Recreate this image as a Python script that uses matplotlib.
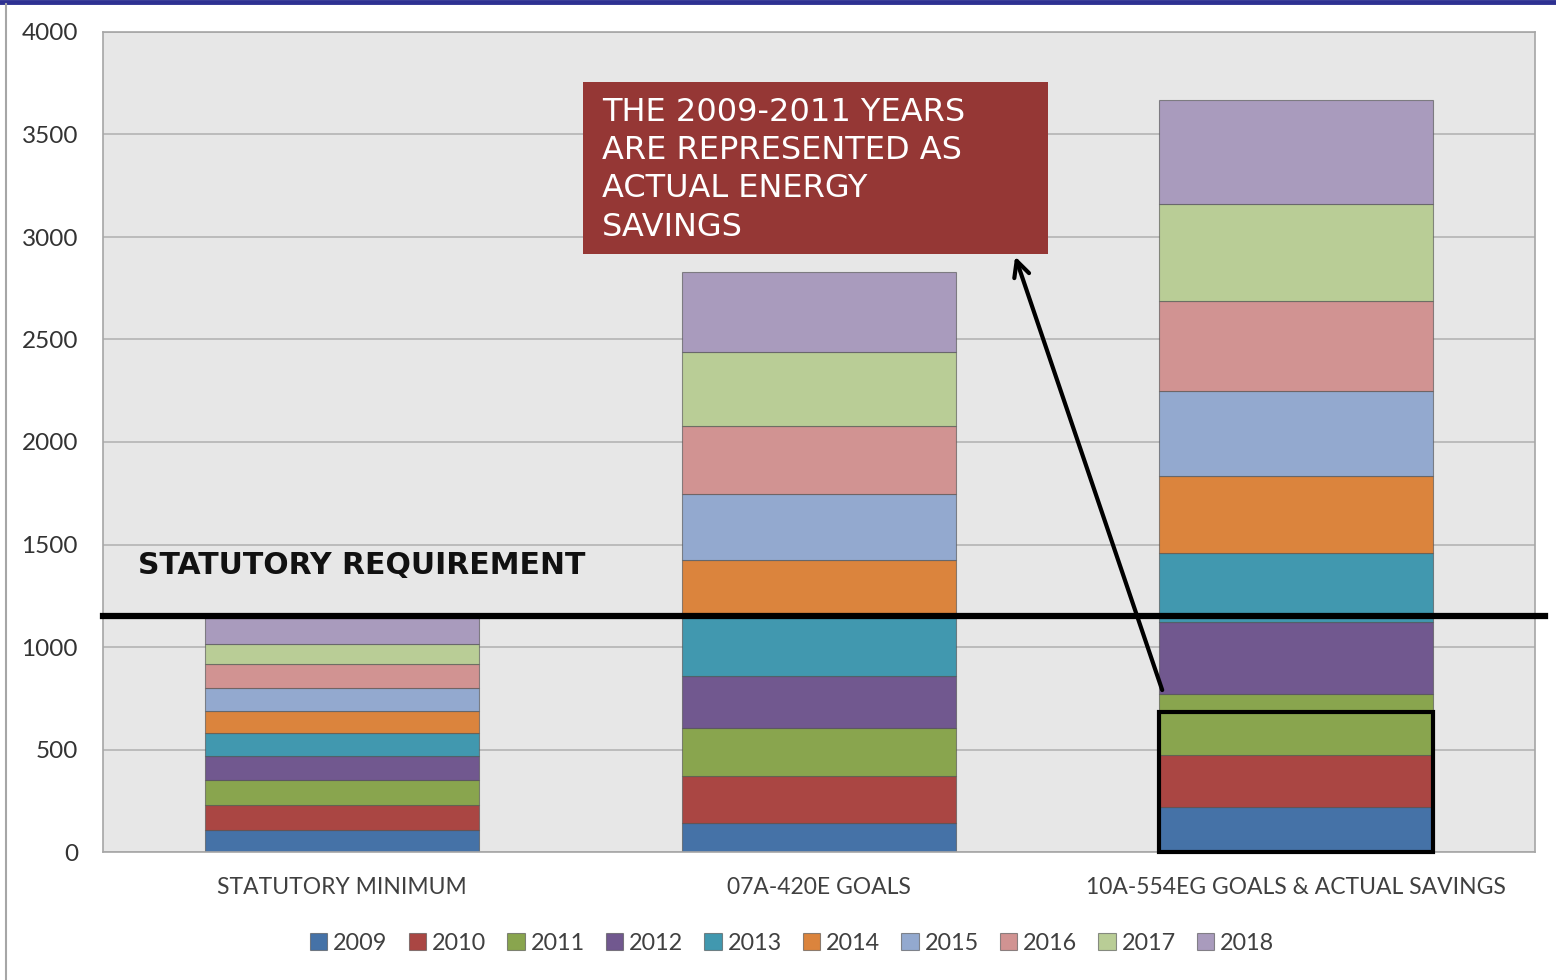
import numpy as np
import matplotlib
matplotlib.use("Agg")
import matplotlib.pyplot as plt
from matplotlib.lines import Line2D
from matplotlib.patches import Rectangle

# categories and years
categories = ["STATUTORY MINIMUM", "07A-420E GOALS", "10A-554EG GOALS & ACTUAL SAVINGS"]
years = ["2009", "2010", "2011", "2012", "2013", "2014", "2015", "2016", "2017", "2018"]

# savings per year, one list per category
statutory_min = [107, 122, 122, 117, 114, 106, 113, 115, 97, 127]
goals_07a = [143, 228, 232, 256, 287, 278, 321, 335, 358, 393]
goals_10a = [221, 252, 298, 351, 335, 377, 415, 440, 471, 508]

requirement = 1150      # statutory requirement line
actual_box_top = 685    # box round 2009-2011 actual savings

colors = ["#4572A7", "#AA4643", "#89A54E", "#71588F", "#4198AF",
          "#DB843D", "#93A9CF", "#D19392", "#B9CD96", "#A99BBD"]

data = np.array([statutory_min, goals_07a, goals_10a])  # shape (3, 10)

fig = plt.figure(figsize=(15.56, 9.8), dpi=100)
ax = fig.add_axes([103 / 1556, 1 - 852 / 980, 1432 / 1556, 820 / 980])
ax.set_facecolor("#E7E7E7")

x = np.arange(len(categories))
width = 0.574
bottom = np.zeros(len(categories))
for i, yr in enumerate(years):
    ax.bar(x, data[:, i], width, bottom=bottom, color=colors[i], label=yr,
           edgecolor=(0.3, 0.3, 0.3, 0.6), linewidth=0.8, zorder=2)
    bottom += data[:, i]

ax.set_xlim(-0.5, 2.5)
ax.set_ylim(0, 4000)
ax.set_yticks(np.arange(0, 4001, 500))
ax.yaxis.grid(True, color="#B4B4B4", linewidth=1.2, zorder=0)
ax.set_axisbelow(True)
ax.tick_params(axis="both", length=0)
ax.tick_params(axis="y", pad=18, labelsize=17.5, labelcolor="#333333")
ax.tick_params(axis="x", pad=18, labelsize=16.5, labelcolor="#404040")
for lab in ax.get_yticklabels() + ax.get_xticklabels():
    lab.set_family("Lato")
ax.set_xticks(x)
ax.set_xticklabels(categories)
for s in ax.spines.values():
    s.set_color("#A6A6A6")
    s.set_linewidth(1.2)

# statutory requirement line and label
ax.axhline(requirement, xmin=0, xmax=1.007, color="black", linewidth=4.5,
           clip_on=False, zorder=5)
ax.text(-0.427, 1400, "STATUTORY REQUIREMENT", fontsize=21.5, fontweight="bold",
        va="center", ha="left", color="#111111", zorder=6)

# box round the actual savings part of the last bar
ax.add_patch(Rectangle((x[2] - width / 2, 0), width, actual_box_top, fill=False,
                       edgecolor="black", linewidth=3, zorder=6, clip_on=False))

# note box
ax.add_patch(Rectangle((0.506, 2917), 0.974, 839, facecolor="#953735",
                       edgecolor="none", zorder=6))
ax.text(0.546, 3685, "THE 2009-2011 YEARS\nARE REPRESENTED AS\nACTUAL ENERGY\nSAVINGS",
        fontsize=23, color="white", va="top", ha="left", linespacing=1.31, zorder=7)
ax.annotate("", xy=(1.411, 2905), xytext=(1.719, 790),
            arrowprops=dict(arrowstyle="->", color="black", lw=3,
                            mutation_scale=28, shrinkA=0, shrinkB=0), zorder=8)

leg = fig.legend(loc="center", bbox_to_anchor=(792 / 1556, 1 - 943 / 980), ncol=10,
                 frameon=False, handlelength=0.75, handleheight=0.75,
                 handletextpad=0.25, columnspacing=0.9,
                 prop={"family": "Lato", "size": 16.8})
for t in leg.get_texts():
    t.set_color("#404040")

# slide frame
fig.add_artist(Line2D([0, 1], [0.998, 0.998], color="#2E3192", linewidth=3.5))
fig.add_artist(Line2D([6 / 1556, 6 / 1556], [0, 0.996], color="#A6A6A6", linewidth=1.5))

fig.savefig("out.png", dpi=100)
